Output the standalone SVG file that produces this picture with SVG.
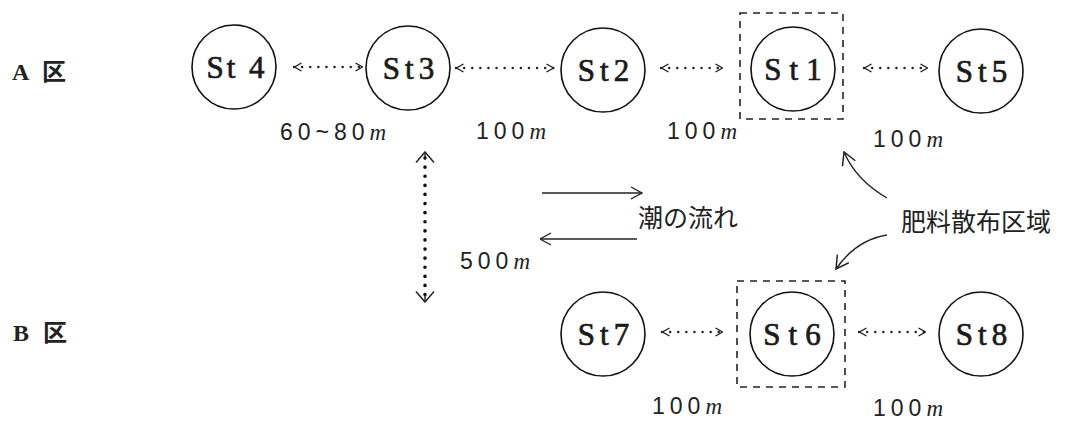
<svg xmlns="http://www.w3.org/2000/svg" width="1068" height="428" viewBox="0 0 1068 428">
<style>
.node circle{fill:#fff;stroke:#111;stroke-width:1.6}
.st{font-family:"Liberation Serif","DejaVu Serif",serif;font-size:31px;font-weight:normal;fill:#1a1a1a;stroke:#1a1a1a;stroke-width:0.7;text-anchor:middle;letter-spacing:5px}
.zone{fill:none;stroke:#222;stroke-width:1.6;stroke-dasharray:7 6}
.dist{font-family:"Liberation Sans","DejaVu Sans",sans-serif;font-size:23px;fill:#222;letter-spacing:5px}
.m{font-family:"Liberation Serif",serif;font-style:italic;letter-spacing:0}
.lab{font-family:"Liberation Serif",serif;font-size:24px;font-weight:bold;fill:#222}
.jp{font-family:"Noto Sans CJK JP","Noto Sans CJK SC",sans-serif;font-size:24px;fill:#222}
.dot{fill:none;stroke:#222;stroke-width:2.4;stroke-dasharray:0.1 8;stroke-linecap:round}
.vdot{fill:none;stroke:#111;stroke-width:3.6;stroke-dasharray:0.1 9;stroke-linecap:round}
.solid{fill:none;stroke:#222;stroke-width:1.4}
</style>
<defs>
<marker id="sm" viewBox="0 0 8 10" refX="8" refY="5" markerWidth="8" markerHeight="10" markerUnits="userSpaceOnUse" orient="auto-start-reverse">
<path d="M0.5,1 L7.5,5 L0.5,9" fill="none" stroke="#222" stroke-width="1.4"/>
</marker>
<marker id="big" viewBox="0 0 12 20" refX="11" refY="10" markerWidth="12" markerHeight="20" markerUnits="userSpaceOnUse" orient="auto-start-reverse">
<path d="M0.5,1 L11,10 L0.5,19" fill="none" stroke="#222" stroke-width="1.5"/>
</marker>
<marker id="tide" viewBox="0 0 12 14" refX="11.5" refY="7" markerWidth="12" markerHeight="14" markerUnits="userSpaceOnUse" orient="auto">
<path d="M0.5,1 L11.5,7 L0.5,13" fill="none" stroke="#222" stroke-width="1.4"/>
</marker>
<marker id="curve" viewBox="0 0 14 16" refX="13" refY="8" markerWidth="14" markerHeight="16" markerUnits="userSpaceOnUse" orient="auto">
<path d="M0.5,1 L13,8 L0.5,15" fill="none" stroke="#222" stroke-width="1.5"/>
</marker>
</defs>
<rect width="1068" height="428" fill="#fff"/>

<g id="label-A"><text class="lab" x="12" y="80">A <tspan class="jp" dx="8">区</tspan></text></g>
<g id="label-B"><text class="lab" x="13" y="341">B <tspan class="jp" dx="8">区</tspan></text></g>

<g id="zone-A"><rect class="zone" x="740" y="13" width="103" height="106"/></g>
<g id="zone-B"><rect class="zone" x="737" y="281" width="108" height="106"/></g>

<g id="St4" class="node"><circle cx="234" cy="67" r="42"/><text class="st" x="237" y="78" style="letter-spacing:3px">St 4</text></g>
<g id="St3" class="node"><circle cx="408" cy="68" r="42"/><text class="st" x="411" y="79">St3</text></g>
<g id="St2" class="node"><circle cx="603" cy="70" r="42"/><text class="st" x="606" y="81">St2</text></g>
<g id="St1" class="node"><circle cx="793" cy="69" r="42"/><text class="st" x="797" y="80" style="letter-spacing:8px">St1</text></g>
<g id="St5" class="node"><circle cx="981" cy="71" r="42"/><text class="st" x="984" y="82">St5</text></g>
<g id="St7" class="node"><circle cx="603" cy="334" r="42"/><text class="st" x="606" y="345">St7</text></g>
<g id="St6" class="node"><circle cx="792" cy="334" r="42"/><text class="st" x="796" y="345" style="letter-spacing:8px">St6</text></g>
<g id="St8" class="node"><circle cx="981" cy="334" r="42"/><text class="st" x="984" y="345">St8</text></g>

<g id="connectors">
<line class="dot" x1="294" y1="67" x2="363" y2="67" marker-start="url(#sm)" marker-end="url(#sm)"/>
<line class="dot" x1="456" y1="68" x2="554" y2="68" marker-start="url(#sm)" marker-end="url(#sm)"/>
<line class="dot" x1="661" y1="68" x2="723" y2="68" marker-start="url(#sm)" marker-end="url(#sm)"/>
<line class="dot" x1="864" y1="68" x2="928" y2="68" marker-start="url(#sm)" marker-end="url(#sm)"/>
<line class="dot" x1="662" y1="332" x2="723" y2="332" marker-start="url(#sm)" marker-end="url(#sm)"/>
<line class="dot" x1="859" y1="332" x2="926" y2="332" marker-start="url(#sm)" marker-end="url(#sm)"/>
<line class="vdot" x1="425" y1="158" x2="425" y2="298" />
<path class="solid" d="M425,152 L425,157" marker-start="url(#big)"/>
<path class="solid" d="M425,296 L425,302" marker-end="url(#big)"/>
<line class="solid" x1="542" y1="193" x2="642" y2="193" marker-end="url(#tide)"/>
<line class="solid" x1="637" y1="239" x2="540" y2="239" marker-end="url(#tide)"/>
<path class="solid" d="M887,198 Q856,180 844,152" marker-end="url(#curve)"/>
<path class="solid" d="M887,235 Q856,240 836,269" marker-end="url(#curve)"/>
</g>

<g id="distances">
<text class="dist" x="280" y="140">60~80<tspan class="m">m</tspan></text>
<text class="dist" x="476" y="139">100<tspan class="m">m</tspan></text>
<text class="dist" x="667" y="139">100<tspan class="m">m</tspan></text>
<text class="dist" x="873" y="147">100<tspan class="m">m</tspan></text>
<text class="dist" x="460" y="269">500<tspan class="m">m</tspan></text>
<text class="dist" x="652" y="414">100<tspan class="m">m</tspan></text>
<text class="dist" x="873" y="416">100<tspan class="m">m</tspan></text>
</g>

<g id="labels">
<text class="jp" x="638" y="227" style="font-size:25px">潮の流れ</text>
<text class="jp" x="901" y="231" style="font-size:25px">肥料散布区域</text>
</g>
</svg>
